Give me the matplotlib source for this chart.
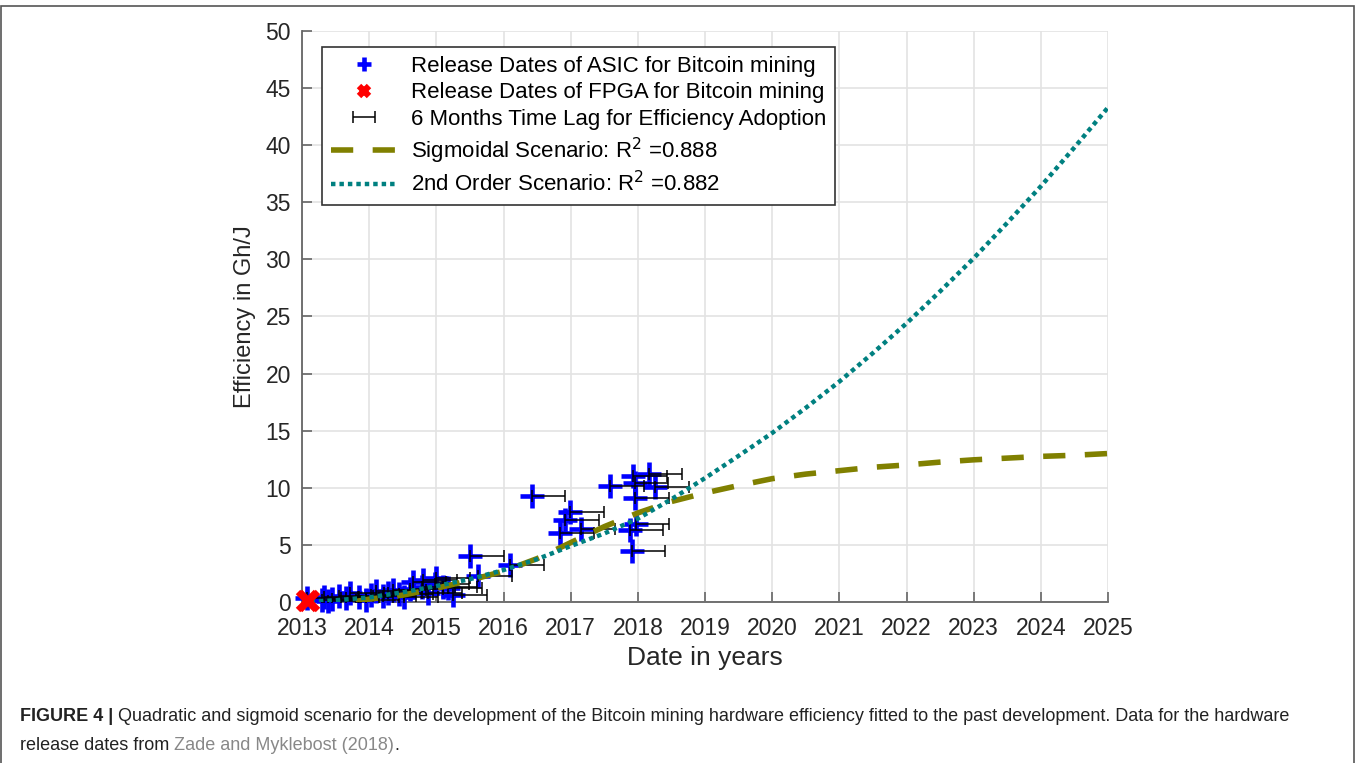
import matplotlib
matplotlib.use("Agg")
import matplotlib.pyplot as plt
from matplotlib.patches import Rectangle

plt.rcParams['font.family'] = ['Liberation Sans', 'DejaVu Sans']

# ASIC release dates (year) and efficiency (Gh/J)
asic_year = [2013.08, 2013.30, 2013.33, 2013.38, 2013.45, 2013.55, 2013.65, 2013.72,
             2013.85, 2013.95, 2014.02, 2014.10, 2014.20, 2014.28, 2014.35, 2014.45,
             2014.52, 2014.60, 2014.65, 2014.78, 2014.80, 2014.88, 2014.98, 2015.00,
             2015.10, 2015.18, 2015.25, 2015.50, 2015.62, 2016.10, 2016.42, 2016.84,
             2016.92, 2016.99, 2017.16, 2017.59, 2017.88, 2017.91, 2017.93, 2017.95,
             2017.96, 2017.97, 2018.16, 2018.26]
asic_eff = [0.35, 0.15, 0.45, 0.05, 0.30, 0.50, 0.35, 0.80,
            0.45, 0.20, 0.60, 0.95, 0.50, 0.80, 1.05, 0.70,
            0.40, 1.10, 1.75, 1.30, 1.90, 0.80, 1.60, 2.10,
            1.30, 1.20, 0.60, 4.00, 2.30, 3.25, 9.30, 6.00,
            7.15, 7.90, 6.40, 10.15, 6.30, 4.45, 11.05, 10.45,
            9.10, 6.85, 11.20, 10.10]
lag = 0.5  # 6 months

# FPGA release dates
fpga_year = [2013.08, 2013.11]
fpga_eff = [0.05, 0.10]

# sigmoidal scenario
sig_year = [2013.8, 2014.0, 2014.5, 2015.0, 2015.5, 2016.0, 2016.5, 2017.0, 2017.5,
            2018.0, 2018.5, 2019.0, 2019.5, 2020.0, 2020.5, 2021.0, 2021.5, 2022.0,
            2022.5, 2023.0, 2023.5, 2024.0, 2024.5, 2025.0]
sig_eff = [0.05, 0.25, 0.60, 1.20, 1.90, 2.70, 3.80, 5.20, 6.60,
           7.80, 8.80, 9.55, 10.20, 10.80, 11.20, 11.50, 11.80, 12.00,
           12.25, 12.45, 12.60, 12.75, 12.85, 13.00]

# 2nd order scenario
quad_year = [2013.0, 2013.5, 2014.0, 2014.5, 2015.0, 2015.5, 2016.0, 2016.5, 2017.0,
             2017.5, 2018.0, 2018.5, 2019.0, 2019.5, 2020.0, 2020.5, 2021.0, 2021.5,
             2022.0, 2022.5, 2023.0, 2023.5, 2024.0, 2024.5, 2025.0]
quad_eff = [0.0, 0.15, 0.40, 0.85, 1.40, 2.00, 2.80, 3.75, 4.90,
            6.00, 7.30, 9.00, 10.85, 12.80, 14.80, 17.00, 19.30, 21.80,
            24.40, 27.20, 30.10, 33.20, 36.40, 39.80, 43.30]

fig = plt.figure(figsize=(13.57, 7.63), dpi=100)
ax = fig.add_axes([0.2226, 0.211, 0.5939, 0.7484])

ax.plot(asic_year, asic_eff, '+', color='blue', ms=17, mew=3.3, zorder=3,
        clip_on=False, label='Release Dates of ASIC for Bitcoin mining')
ax.plot(fpga_year, fpga_eff, 'x', color='red', ms=13, mew=4.5, zorder=9,
        clip_on=False, label='Release Dates of FPGA for Bitcoin mining')
ax.errorbar(asic_year, asic_eff, xerr=[[0] * len(asic_year), [lag] * len(asic_year)],
            fmt='none', ecolor='black', elinewidth=1.1, capsize=4, capthick=1.1,
            zorder=5, label='6 Months Time Lag for Efficiency Adoption')
ax.plot(sig_year, sig_eff, color='#808000', lw=4, dashes=(4, 3.5), zorder=6,
        label='Sigmoidal Scenario: R$^2$ =0.888')
ax.plot(quad_year, quad_eff, color='#008080', lw=3.2, ls=(0, (1, 0.9)), zorder=7,
        label='2nd Order Scenario: R$^2$ =0.882')

ax.set_xlim(2013, 2025)
ax.set_ylim(0, 50)
ax.set_xticks(range(2013, 2026))
ax.set_yticks(range(0, 51, 5))
ax.grid(True, color='#e3e3e3', lw=1.2)
ax.set_axisbelow(True)
for s in ['top', 'right']:
    ax.spines[s].set_visible(False)
for s in ['left', 'bottom']:
    ax.spines[s].set_color('#666666')
    ax.spines[s].set_linewidth(1.3)
ax.tick_params(direction='in', length=7, width=1.2, color='#666666',
               labelsize=16.5, labelcolor='#262626')
ax.tick_params(axis='x', pad=11)
ax.tick_params(axis='y', pad=8)
ax.set_xlabel('Date in years', fontsize=19, color='#262626')
ax.set_ylabel('Efficiency in Gh/J', fontsize=17, color='#262626', labelpad=7)

h, l = ax.get_legend_handles_labels()
order = [0, 1, 4, 2, 3]
leg = ax.legend([h[i] for i in order], [l[i] for i in order],
                loc='upper left', bbox_to_anchor=(0.0248, 0.972), borderaxespad=0,
                fontsize=16, frameon=True, fancybox=False, framealpha=1,
                edgecolor='#333333', handlelength=3.0, handletextpad=0.6,
                markerscale=0.6, borderpad=0.4, labelspacing=0.25)
leg.get_frame().set_linewidth(1.2)
leg.set_zorder(10)

# border of the figure panel
fig.patches.append(Rectangle((0.001, -0.05), 0.997, 1.042, transform=fig.transFigure,
                             fill=False, edgecolor='#555555', lw=1.2))

fs = 13
t1 = fig.text(0.0147, 0.0603, 'FIGURE 4 | ', fontsize=fs, fontweight='bold',
              color='#222222', va='center')
fig.canvas.draw()
fig.text(0.0147 + t1.get_window_extent().width / fig.bbox.width, 0.0603,
         'Quadratic and sigmoid scenario for the development of the Bitcoin mining hardware '
         'efficiency fitted to the past development. Data for the hardware',
         fontsize=fs, color='#222222', va='center')
t3 = fig.text(0.0147, 0.0223, 'release dates from ', fontsize=fs, color='#222222', va='center')
fig.canvas.draw()
x2 = 0.0147 + t3.get_window_extent().width / fig.bbox.width
t4 = fig.text(x2, 0.0223, 'Zade and Myklebost (2018)', fontsize=fs, color='#888888', va='center')
fig.canvas.draw()
x3 = x2 + t4.get_window_extent().width / fig.bbox.width
fig.text(x3, 0.0223, '.', fontsize=fs, color='#222222', va='center')

fig.savefig('out.png', dpi=100)
